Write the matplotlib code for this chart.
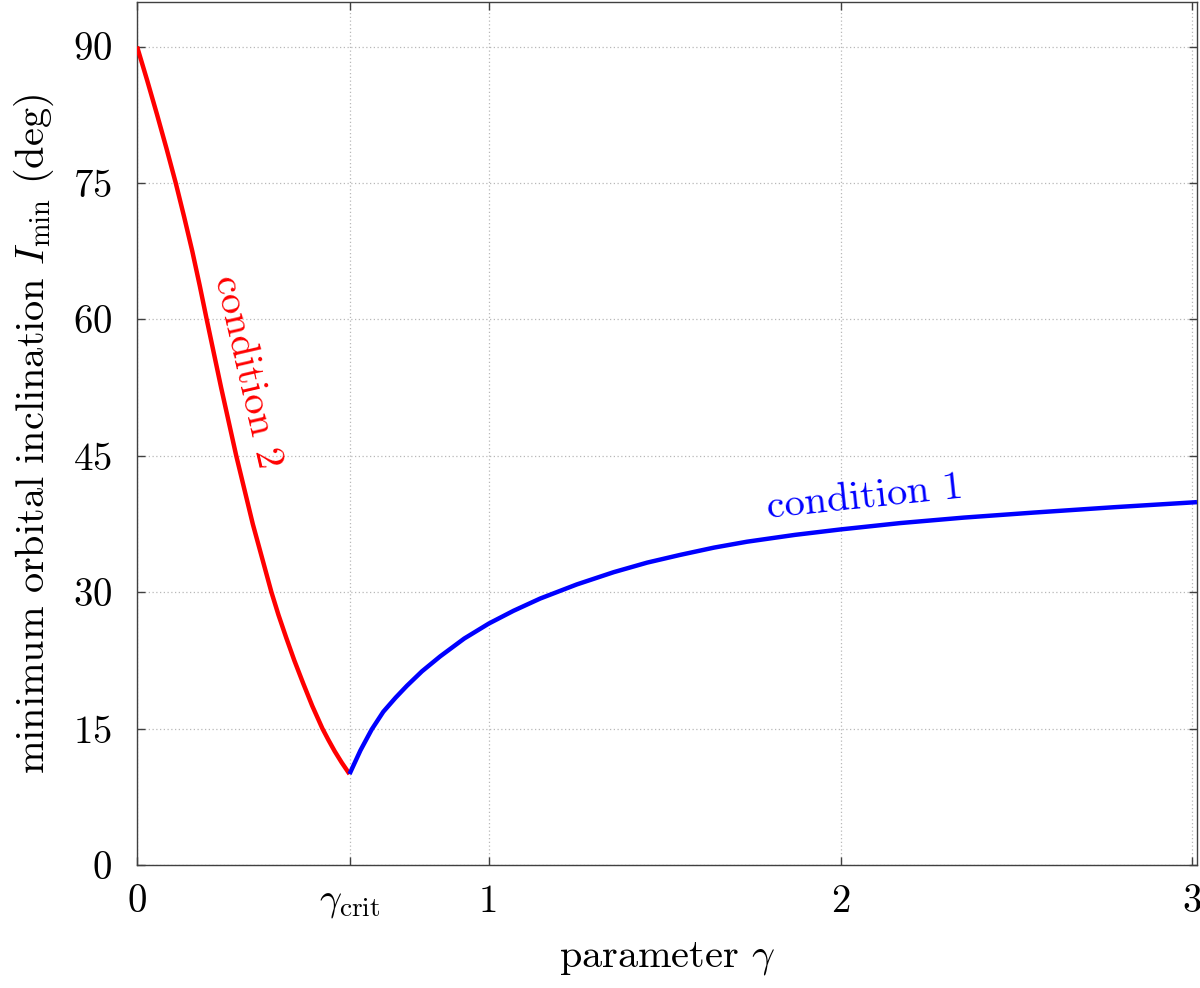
import numpy as np
import matplotlib
matplotlib.use('Agg')
import matplotlib.pyplot as plt

plt.rcParams['font.family'] = 'serif'
plt.rcParams['font.serif'] = ['cmr10']
plt.rcParams['mathtext.fontset'] = 'cm'
plt.rcParams['axes.formatter.use_mathtext'] = True

# values
gamma_crit = 0.604
cond2_gamma = [0.0, 0.029, 0.057, 0.084, 0.110, 0.134, 0.157, 0.178, 0.198, 0.239,
               0.282, 0.329, 0.382, 0.402, 0.424, 0.447, 0.472, 0.498, 0.527,
               0.544, 0.562, 0.582, 0.604]
cond2_imin = [90.0, 86.25, 82.5, 78.75, 75.0, 71.25, 67.5, 63.75, 60.0, 52.5,
              45.0, 37.5, 30.0, 27.5, 25.0, 22.5, 20.0, 17.5, 15.0,
              13.75, 12.5, 11.25, 10.0]
cond1_gamma = [0.604, 0.635, 0.667, 0.70, 0.735, 0.767, 0.81, 0.862, 0.93, 1.0,
               1.07, 1.146, 1.25, 1.355, 1.45, 1.544, 1.64, 1.734, 1.87, 2.0,
               2.17, 2.35, 2.548, 2.78, 3.013]
cond1_imin = [10.0, 12.6, 14.9, 16.85, 18.4, 19.7, 21.3, 22.95, 24.9, 26.55,
              27.95, 29.3, 30.85, 32.2, 33.25, 34.1, 34.9, 35.55, 36.3, 36.9,
              37.6, 38.2, 38.75, 39.35, 39.9]

xtick_pos = [0, gamma_crit, 1, 2, 3]
xtick_labels = ['0', r'$\gamma_{\rm crit}$', '1', '2', '3']
ytick_pos = [0, 15, 30, 45, 60, 75, 90]

fig = plt.figure(figsize=(12, 9.88), dpi=100)
ax = fig.add_axes([0.1142, 0.1245, 0.8833, 0.8735])

ax.plot(cond2_gamma, cond2_imin, color='#ff0000', lw=3.2,
        solid_joinstyle='round', solid_capstyle='butt', zorder=3)
ax.plot(cond1_gamma, cond1_imin, color='#0000ff', lw=3.2,
        solid_joinstyle='round', solid_capstyle='butt', zorder=3)

ax.text(0.313, 54.2, 'condition 2', color='#ff0000', fontsize=29,
        rotation=-77, ha='center', va='center', rotation_mode='anchor')
ax.text(2.07, 40.4, 'condition 1', color='#0000ff', fontsize=29,
        rotation=6, ha='center', va='center', rotation_mode='anchor')

ax.set_xlim(0, 3.013)
ax.set_ylim(0, 94.9)
ax.set_xticks(xtick_pos)
ax.set_xticklabels(xtick_labels)
ax.set_yticks(ytick_pos)
ax.tick_params(direction='in', top=True, right=True, length=6, width=1,
               color='#404040', labelsize=28)
ax.tick_params(axis='y', pad=18)
ax.tick_params(axis='x', pad=14)
for s in ax.spines.values():
    s.set_color('#404040')
    s.set_linewidth(1)

ax.grid(True, color='#b8b8b8', linestyle=(0, (1, 2)), lw=0.9)
ax.set_axisbelow(True)

ax.set_xlabel(r'parameter $\gamma$', fontsize=29, labelpad=14)
ax.set_ylabel(r'minimum orbital inclination $I_{\rm min}$ (deg)', fontsize=29, labelpad=12)

fig.savefig('out.png', dpi=100)
